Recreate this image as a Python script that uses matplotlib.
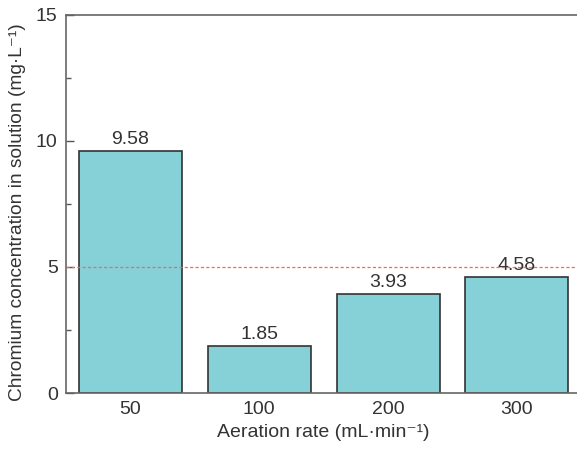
import matplotlib
matplotlib.use("Agg")
import matplotlib.pyplot as plt
import numpy as np
from matplotlib.ticker import MultipleLocator

plt.rcParams['font.family'] = ['Liberation Sans', 'DejaVu Sans']

# aeration rate vs chromium left in solution
rates = ['50', '100', '200', '300']
chromium = [9.58, 1.85, 3.93, 4.58]
limit = 5

text_color = '#333333'

fig = plt.figure(figsize=(5.77, 4.57), dpi=100)
ax = fig.add_axes([0.1144, 0.140, 0.893, 0.828])

x = np.arange(len(rates))
bars = ax.bar(x, chromium, width=0.8, color='#86d0d8', edgecolor='#333333', linewidth=1.2)

for xi, v in zip(x, chromium):
    ax.text(xi, v + 0.12, f'{v:.2f}', ha='center', va='bottom', fontsize=14, color=text_color)

ax.axhline(limit, color='#f26b4f', linestyle=(0, (2.5, 1.8)), linewidth=0.9, zorder=3)

ax.set_xlim(-0.5, 3.5)
ax.set_ylim(0, 15)
ax.set_xticks(x)
ax.set_xticklabels(rates)
ax.yaxis.set_major_locator(MultipleLocator(5))
ax.yaxis.set_minor_locator(MultipleLocator(2.5))
ax.tick_params(axis='y', which='major', direction='in', length=6, width=1, color='#555555',
               labelsize=14, labelcolor=text_color, pad=6)
ax.tick_params(axis='y', which='minor', direction='in', length=3.5, width=1, color='#555555')
ax.tick_params(axis='x', length=0, labelsize=14, labelcolor=text_color, pad=6)

for s in ax.spines.values():
    s.set_color('#666666')
    s.set_linewidth(1.2)

ax.set_xlabel('Aeration rate (mL·min⁻¹)', fontsize=14, color=text_color, labelpad=4)
ax.set_ylabel('Chromium concentration in solution (mg·L⁻¹)', fontsize=13.8, color=text_color)
ax.yaxis.set_label_coords(-0.078, 0.478)

fig.savefig('out.png', dpi=100)
